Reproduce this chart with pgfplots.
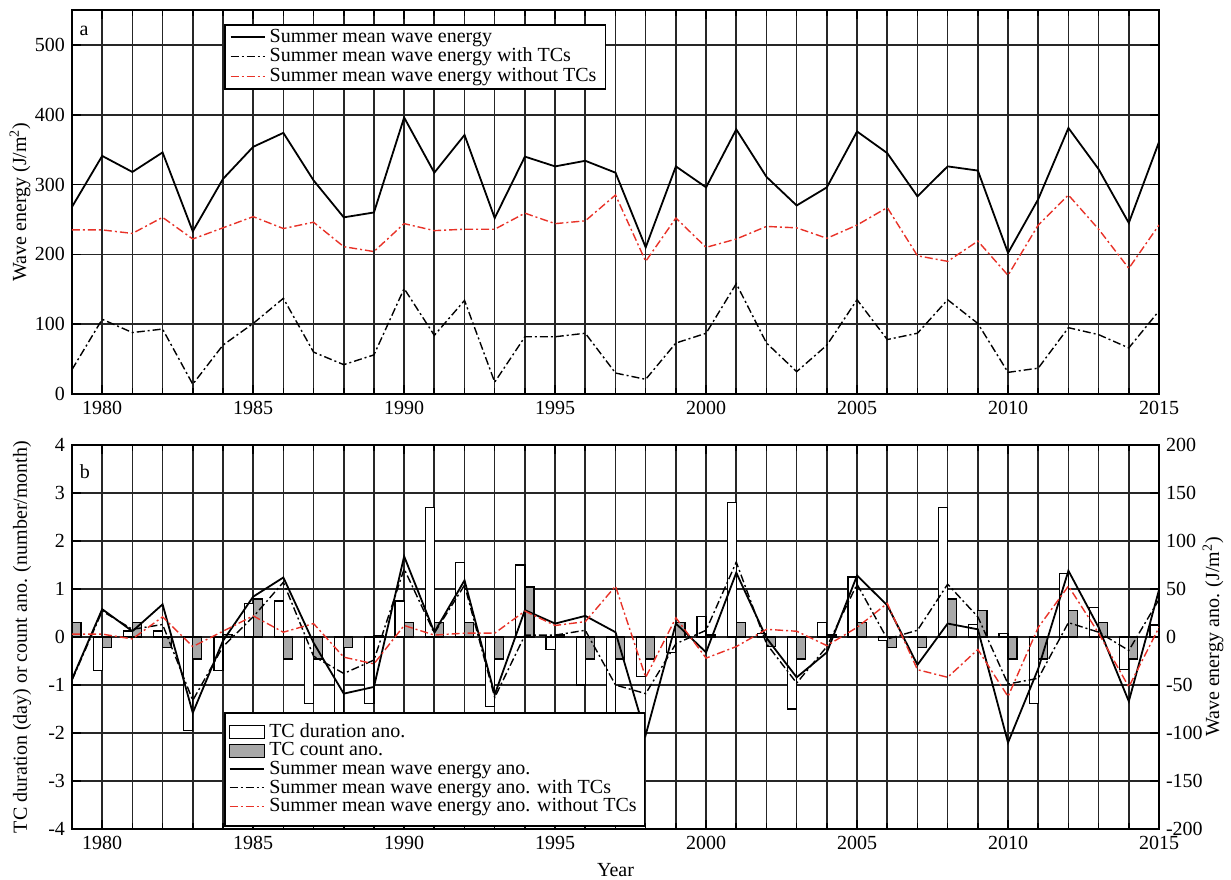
\documentclass[border=0pt]{standalone}
\usepackage{fontspec}
\setmainfont{Liberation Serif}
\usepackage{pgfplots}
\pgfplotsset{compat=1.18}
\definecolor{myred}{RGB}{232,50,40}
\definecolor{bargray}{RGB}{168,168,168}
\pgfplotsset{
  common/.style={
    scale only axis, width=543.5pt, height=192pt,
    xmin=1979, xmax=2015,
    xtick={1980,1985,...,2015},
    minor xtick={1979,...,2015},
    /pgf/number format/assume math mode=true,
    /pgf/number format/1000 sep={},
    tick label style={font=\fontsize{10}{12}\selectfont},
    label style={font=\fontsize{10}{12}\selectfont},
    grid=both,
    major grid style={black!85, line width=0.8pt},
    minor grid style={black!85, line width=0.8pt},
    axis line style={line width=1pt},
    tick style={black, line width=0.8pt},
    legend cell align=left,
    legend style={draw=black, line width=0.8pt, fill=white, inner sep=1pt,
      font=\fontsize{10}{11}\selectfont},
  },
  dd/.style={dash pattern=on 4pt off 1.5pt on 1pt off 1.5pt},
}
\begin{document}
\begin{tikzpicture}
% ---------------- panel a ----------------
\begin{axis}[common, at={(0,217.5pt)}, anchor=south west,
  ymin=0, ymax=550, ytick={0,100,...,500},
  ylabel={Wave energy (J/m\textsuperscript{2})},
  y label style={at={(axis description cs:-0.0478,0.5)}, anchor=center, rotate=0},
  legend style={at={(0.1398,0.9635)}, anchor=north west, inner xsep=2.5pt, inner ysep=0pt, row sep=-2.5pt}]
\addlegendimage{black, line width=0.9pt}
\addlegendentry{Summer mean wave energy}
\addlegendimage{black, line width=0.7pt, dd}
\addlegendentry{Summer mean wave energy with TCs}
\addlegendimage{draw=myred, line width=0.7pt, dd}
\addlegendentry{Summer mean wave energy without TCs}
\addplot[black, line width=0.9pt, forget plot] coordinates {(1979,268)(1980,341)(1981,318)(1982,346)(1983,233)(1984,308)(1985,354)(1986,374)(1987,306)(1988,253)(1989,260)(1990,396)(1991,317)(1992,371)(1993,252)(1994,340)(1995,326)(1996,334)(1997,317)(1998,210)(1999,326)(2000,296)(2001,379)(2002,311)(2003,270)(2004,296)(2005,376)(2006,345)(2007,283)(2008,326)(2009,320)(2010,202)(2011,279)(2012,381)(2013,322)(2014,245)(2015,361)};
\addplot[black, line width=0.7pt, dd, forget plot] coordinates {(1979,35)(1980,107)(1981,88)(1982,93)(1983,14)(1984,70)(1985,101)(1986,137)(1987,60)(1988,42)(1989,56)(1990,151)(1991,84)(1992,134)(1993,17)(1994,82)(1995,82)(1996,87)(1997,30)(1998,21)(1999,73)(2000,87)(2001,158)(2002,73)(2003,32)(2004,70)(2005,135)(2006,78)(2007,87)(2008,135)(2009,101)(2010,31)(2011,37)(2012,95)(2013,85)(2014,66)(2015,119)};
\addplot[myred, line width=0.7pt, dd, forget plot] coordinates {(1979,235)(1980,235)(1981,230)(1982,253)(1983,222)(1984,238)(1985,254)(1986,237)(1987,246)(1988,211)(1989,204)(1990,244)(1991,234)(1992,236)(1993,236)(1994,259)(1995,244)(1996,248)(1997,285)(1998,190)(1999,252)(2000,210)(2001,222)(2002,240)(2003,238)(2004,223)(2005,242)(2006,267)(2007,198)(2008,190)(2009,219)(2010,170)(2011,242)(2012,285)(2013,236)(2014,180)(2015,242)};
\node[font=\fontsize{10}{12}\selectfont] at (axis cs:1979.4,520) {a};
\end{axis}
% ---------------- panel b: bars ----------------
\begin{axis}[common, at={(0,0)}, anchor=south west,
  ymin=-4, ymax=4, ytick={-4,...,4},
  ylabel={TC duration (day) or count ano. (number/month)},
  y label style={at={(axis description cs:-0.046,0.5)}, anchor=center},
  xlabel={Year},
  x label style={at={(axis description cs:0.5,-0.107)}, anchor=center},
  bar width=0.3]
\addplot[ybar, draw=black, fill=white, line width=0.6pt, bar shift=-0.15] coordinates {(1979,0)(1980,-0.69)(1981,0.125)(1982,0.125)(1983,-1.95)(1984,-0.69)(1985,0.69)(1986,0.75)(1987,-1.39)(1988,-1.57)(1989,-1.39)(1990,0.75)(1991,2.69)(1992,1.56)(1993,-1.44)(1994,1.5)(1995,-0.26)(1996,-1.0)(1997,-1.7)(1998,-0.82)(1999,-0.32)(2000,0.43)(2001,2.81)(2002,0.08)(2003,-1.5)(2004,0.31)(2005,1.25)(2006,-0.07)(2007,0)(2008,2.69)(2009,0.26)(2010,0.07)(2011,-1.39)(2012,1.32)(2013,0.62)(2014,-0.68)(2015,0.25)};
\addplot[ybar, draw=black, fill=bargray, line width=0.6pt, bar shift=0.15] coordinates {(1979,0.31)(1980,-0.215)(1981,0.31)(1982,-0.215)(1983,-0.46)(1984,0.05)(1985,0.79)(1986,-0.46)(1987,-0.46)(1988,-0.215)(1989,0.03)(1990,0.31)(1991,0.31)(1992,0.31)(1993,-0.46)(1994,1.04)(1995,0.04)(1996,-0.46)(1997,-0.46)(1998,-0.46)(1999,0.31)(2000,0.04)(2001,0.31)(2002,-0.2)(2003,-0.46)(2004,0.04)(2005,0.31)(2006,-0.215)(2007,-0.215)(2008,0.79)(2009,0.55)(2010,-0.46)(2011,-0.46)(2012,0.55)(2013,0.31)(2014,-0.46)(2015,0)};
\node[font=\fontsize{10}{12}\selectfont] at (axis cs:1979.43,3.45) {b};
\end{axis}
% ---------------- panel b: lines ----------------
\begin{axis}[common, at={(0,0)}, anchor=south west,
  ymin=-200, ymax=200, ytick={-200,-150,...,200},
  axis y line*=right, axis x line=none, grid=none,
  ylabel={Wave energy ano. (J/m\textsuperscript{2})},
  y label style={at={(axis description cs:1.0497,0.5)}, anchor=center, rotate=0},
  legend style={at={(0.1398,0.006)}, anchor=south west, inner ysep=3.5pt, inner xsep=2pt, row sep=-3pt}]
\addlegendimage{legend image code/.code={\draw[black, fill=white, line width=0.6pt] (0pt,-3.3pt) rectangle (17.5pt,3.3pt);}}
\addlegendentry{TC duration ano.}
\addlegendimage{legend image code/.code={\draw[black, fill=bargray, line width=0.6pt] (0pt,-3.3pt) rectangle (17.5pt,3.3pt);}}
\addlegendentry{TC count ano.}
\addlegendimage{black, line width=0.9pt}
\addlegendentry{Summer mean wave energy ano.}
\addlegendimage{black, line width=0.7pt, dd}
\addlegendentry{Summer mean wave energy ano. with TCs}
\addlegendimage{draw=myred, line width=0.8pt, dd}
\addlegendentry{Summer mean wave energy ano. without TCs}
\addplot[black, line width=0.9pt, forget plot] coordinates {(1979,-44)(1980,29)(1981,6)(1982,34)(1983,-79)(1984,-4)(1985,42)(1986,62)(1987,-6)(1988,-59)(1989,-52)(1990,84)(1991,5)(1992,59)(1993,-60)(1994,28)(1995,14)(1996,22)(1997,5)(1998,-102)(1999,14)(2000,-16)(2001,67)(2002,-1)(2003,-42)(2004,-16)(2005,64)(2006,33)(2007,-29)(2008,14)(2009,8)(2010,-110)(2011,-33)(2012,69)(2013,10)(2014,-67)(2015,49)};
\addplot[black, line width=0.7pt, dd, forget plot] coordinates {(1979,-45)(1980,27)(1981,8)(1982,13)(1983,-66)(1984,-10)(1985,21)(1986,57)(1987,-20)(1988,-38)(1989,-24)(1990,71)(1991,4)(1992,54)(1993,-63)(1994,2)(1995,2)(1996,7)(1997,-50)(1998,-59)(1999,-7)(2000,7)(2001,78)(2002,-7)(2003,-48)(2004,-10)(2005,55)(2006,-2)(2007,7)(2008,55)(2009,21)(2010,-49)(2011,-43)(2012,15)(2013,5)(2014,-14)(2015,39)};
\addplot[myred, line width=0.7pt, dd, forget plot] coordinates {(1979,3)(1980,3)(1981,-2)(1982,21)(1983,-10)(1984,6)(1985,22)(1986,5)(1987,14)(1988,-21)(1989,-28)(1990,12)(1991,2)(1992,4)(1993,4)(1994,27)(1995,12)(1996,16)(1997,53)(1998,-42)(1999,20)(2000,-22)(2001,-10)(2002,8)(2003,6)(2004,-9)(2005,10)(2006,35)(2007,-34)(2008,-42)(2009,-13)(2010,-62)(2011,10)(2012,53)(2013,4)(2014,-52)(2015,10)};
\end{axis}
\pgfresetboundingbox
\path[use as bounding box] (-36pt,-25pt) rectangle (579.5pt,414.5pt);
\end{tikzpicture}
\end{document}
